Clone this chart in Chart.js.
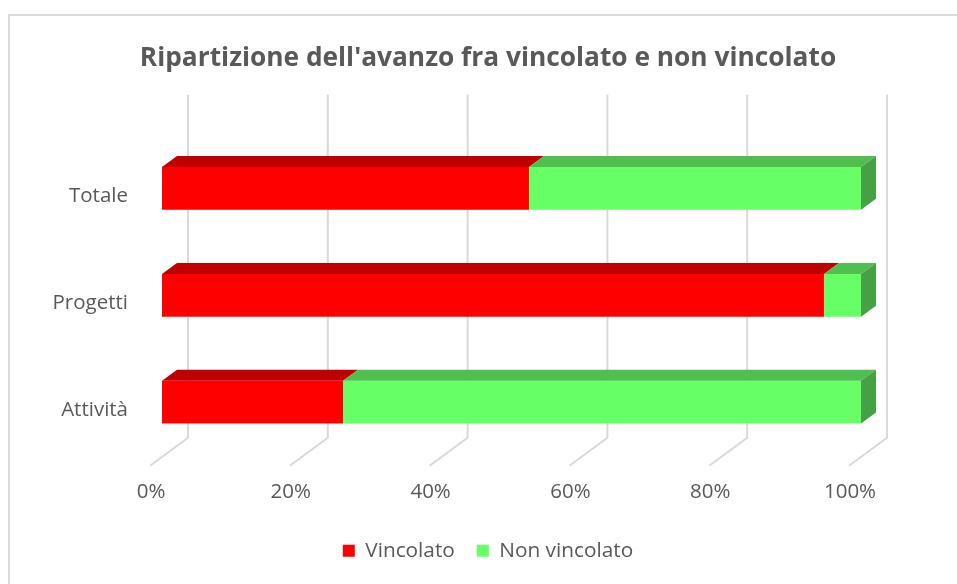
<!DOCTYPE html>
<html>
<head>
<meta charset="utf-8">
<script src="https://cdn.jsdelivr.net/npm/chart.js@4.4.1/dist/chart.umd.min.js"></script>
<style>
  html, body { margin: 0; padding: 0; background: #fff; overflow: hidden; }
  #box { position: absolute; left: 8px; top: 14px; border: 2px solid #d9d9d9; width: 956px; height: 580px; }
  #chart { display: block; }
</style>
</head>
<body>
<div id="box"><canvas id="chart" width="956" height="568"></canvas></div>
<script>
const categories = ['Totale', 'Progetti', 'Attività'];
const vincolato = [52.5, 94.7, 25.9];
const nonVincolato = [47.5, 5.3, 74.1];
const tickValues = [0, 20, 40, 60, 80, 100];

const textColor = '#595959';
const depthX = 15, depthY = 11;

// griglia 3D: parete di fondo + linee del pavimento
const grid3d = {
    id: 'grid3d',
    beforeDatasetsDraw(chart) {
        const ctx = chart.ctx;
        const x = chart.scales.x;
        const area = chart.chartArea;
        ctx.save();
        ctx.strokeStyle = '#d9d9d9';
        ctx.lineWidth = 2;
        tickValues.forEach(v => {
            const px = x.getPixelForValue(v);
            ctx.beginPath();
            ctx.moveTo(px + 26, area.top - 40);
            ctx.lineTo(px + 26, area.bottom - 18);
            ctx.lineTo(px - 12, area.bottom + 10);
            ctx.stroke();
        });
        ctx.restore();
    }
};

// facce superiori e laterali delle barre
const bars3d = {
    id: 'bars3d',
    afterDatasetsDraw(chart) {
        const ctx = chart.ctx;
        const tops = ['#c00000', '#50bf50'];
        const n = chart.data.datasets.length;
        ctx.save();
        chart.data.datasets.forEach((ds, di) => {
            const meta = chart.getDatasetMeta(di);
            meta.data.forEach(bar => {
                const p = bar.getProps(['x', 'y', 'base', 'height'], true);
                const t = p.y - p.height / 2, b = p.y + p.height / 2;
                ctx.fillStyle = tops[di];
                ctx.beginPath();
                ctx.moveTo(p.base, t);
                ctx.lineTo(p.x, t);
                ctx.lineTo(p.x + depthX, t - depthY);
                ctx.lineTo(p.base + depthX, t - depthY);
                ctx.closePath();
                ctx.fill();
                if (di === n - 1) {
                    ctx.fillStyle = '#44a244';
                    ctx.beginPath();
                    ctx.moveTo(p.x, t);
                    ctx.lineTo(p.x + depthX, t - depthY);
                    ctx.lineTo(p.x + depthX, b - depthY);
                    ctx.lineTo(p.x, b);
                    ctx.closePath();
                    ctx.fill();
                }
            });
        });
        ctx.restore();
    }
};

const ctx = document.getElementById('chart').getContext('2d');
const chart = new Chart(ctx, {
    type: 'bar',
    data: {
        labels: categories,
        datasets: [{
            label: 'Vincolato',
            data: vincolato,
            backgroundColor: '#ff0000',
            borderWidth: 0
        }, {
            label: 'Non vincolato',
            data: nonVincolato,
            backgroundColor: '#66ff66',
            borderWidth: 0
        }]
    },
    options: {
        indexAxis: 'y',
        responsive: false,
        animation: false,
        categoryPercentage: 1,
        barPercentage: 0.4,
        layout: { padding: { left: 0, right: 0, top: 0, bottom: 12.75 } },
        scales: {
            x: {
                stacked: true,
                min: 0,
                max: 100,
                afterBuildTicks: scale => { scale.ticks = tickValues.map(v => ({ value: v })); },
                afterFit: scale => { scale.height = 62.75; },
                grid: { display: false, drawTicks: false },
                border: { display: false },
                ticks: {
                    color: textColor,
                    font: { family: 'Open Sans', size: 20.5 },
                    padding: 24,
                    labelOffset: -11,
                    maxRotation: 0,
                    callback: v => v + '%'
                }
            },
            y: {
                stacked: true,
                afterFit: scale => { scale.width = 152; },
                grid: { display: false, drawTicks: false },
                border: { display: false },
                ticks: {
                    color: textColor,
                    font: { family: 'Open Sans', size: 20.5 },
                    padding: 34,
                    labelOffset: 8
                }
            },
            // spazio vuoto a destra per la profondità 3D
            yRight: {
                type: 'category',
                position: 'right',
                display: true,
                afterFit: scale => { scale.width = 105; },
                grid: { display: false, drawTicks: false },
                border: { display: false },
                ticks: { display: false }
            }
        },
        plugins: {
            title: {
                display: true,
                text: "Ripartizione dell'avanzo fra vincolato e non vincolato",
                color: textColor,
                font: { family: 'Open Sans', size: 26.3, weight: 'bold' },
                padding: { top: 26.4, bottom: 60.9 }
            },
            legend: {
                position: 'bottom',
                labels: {
                    color: textColor,
                    font: { family: 'Open Sans', size: 20.8 },
                    boxWidth: 12,
                    boxHeight: 12,
                    padding: 22
                }
            },
            tooltip: { enabled: false }
        }
    },
    plugins: [grid3d, bars3d]
});
</script>
</body>
</html>
